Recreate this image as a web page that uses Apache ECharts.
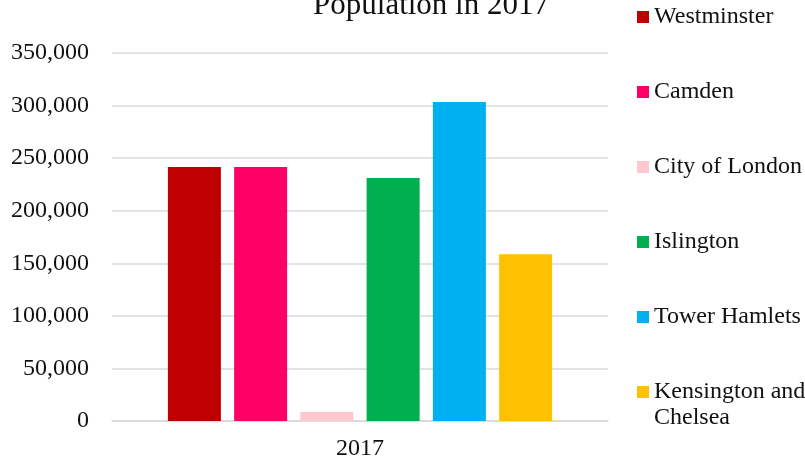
<!DOCTYPE html>
<html>
<head>
<meta charset="utf-8">
<script src="https://cdn.jsdelivr.net/npm/echarts@6/dist/echarts.min.js"></script>
<style>
  html, body { margin: 0; padding: 0; background: #fff; }
  #chart { width: 805px; height: 458px; }
</style>
</head>
<body>
<div id="chart"></div>
<script>
// population in 2017
const categories = ['2017'];
const boroughs = ['Westminster', 'Camden', 'City of London', 'Islington', 'Tower Hamlets', 'Kensington and Chelsea'];
const population = [241500, 241500, 8600, 231000, 303500, 158700];
const colors = ['#C00000', '#FF0066', '#FFC7CE', '#00B050', '#00B0F0', '#FFC000'];

const font = 'Liberation Serif, Times New Roman, serif';

const chart = echarts.init(document.getElementById('chart'));

const series = boroughs.map((name, i) => ({
  name: name,
  type: 'bar',
  data: [population[i]],
  barWidth: 53,
  barGap: '25%',
  itemStyle: { color: colors[i] }
}));

chart.setOption({
  animation: false,
  title: {
    text: 'Population in 2017',
    left: 426,
    top: -15,
    textAlign: 'center',
    textStyle: { fontFamily: font, fontSize: 31, fontWeight: 'normal', color: '#111' }
  },
  legend: {
    orient: 'vertical',
    left: 637,
    top: 4,
    padding: 0,
    itemWidth: 12,
    itemHeight: 12,
    itemGap: 49,
    icon: 'rect',
    textStyle: { fontFamily: font, fontSize: 24, lineHeight: 26, color: '#111' },
    // long name wraps in the picture; the second line is drawn below
    formatter: function (name) {
      return name === 'Kensington and Chelsea' ? 'Kensington and' : name;
    },
    data: boroughs
  },
  graphic: [{
    type: 'text',
    left: 654,
    top: 406,
    style: { text: 'Chelsea', font: '24px ' + font, fill: '#111' }
  }],
  grid: { left: 112, right: 197, top: 53, bottom: 37, outerBoundsMode: 'none' },
  xAxis: {
    type: 'category',
    data: categories,
    axisTick: { show: false },
    axisLine: { lineStyle: { color: '#d9d9d9', width: 1.5 } },
    axisLabel: { fontFamily: font, fontSize: 24, color: '#111', margin: 16 }
  },
  yAxis: {
    type: 'value',
    min: 0,
    max: 350000,
    interval: 50000,
    axisLine: { show: false },
    axisTick: { show: false },
    splitLine: { lineStyle: { color: '#d9d9d9', width: 1.5 } },
    axisLabel: {
      fontFamily: font, fontSize: 24, color: '#111', margin: 23,
      formatter: v => v.toLocaleString('en-US')
    }
  },
  series: series
});
</script>
</body>
</html>
